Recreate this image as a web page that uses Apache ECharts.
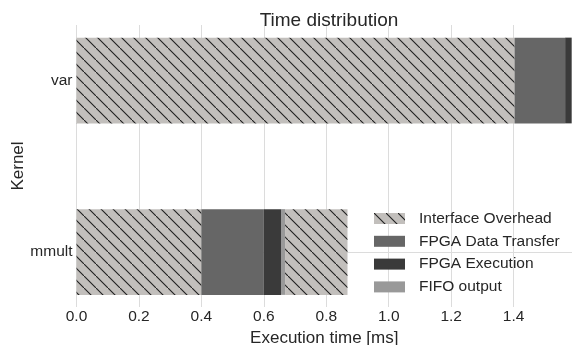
<!DOCTYPE html>
<html>
<head>
<meta charset="utf-8">
<script src="https://cdn.jsdelivr.net/npm/echarts@6/dist/echarts.min.js"></script>
<style>
  html, body { margin: 0; padding: 0; background: #fff; }
  #chart { width: 572px; height: 345px; }
</style>
</head>
<body>
<div id="chart"></div>
<script>
// kernels, bottom to top
var kernels = ['mmult', 'var'];
var seriesNames = ['Interface Overhead', 'FPGA Data Transfer', 'FPGA Execution', 'FIFO output'];
var interfaceOverhead = [0.4, 1.403];
var dataTransfer = [0.2, 0.162];
var fpgaExecution = [0.055, 0.021];
var fifoOutput = [0.013, 0];
var interfaceTail = [0.2, 0]; // second overhead piece after FIFO output
var xTicks = [0, 0.2, 0.4, 0.6, 0.8, 1.0, 1.2, 1.4];
var xMax = 1.587;

var FONT = 'Liberation Sans, Arial, sans-serif';
var TXT = '#262626';
var GRID = '#dcdcdc';

// hatch pattern for the overhead bars
function makeHatch() {
	var s = 12;
	var c = document.createElement('canvas');
	c.width = s;
	c.height = s;
	var ctx = c.getContext('2d');
	ctx.fillStyle = '#c2bfbc';
	ctx.fillRect(0, 0, s, s);
	ctx.strokeStyle = '#1e1e1e';
	ctx.lineWidth = 1.1;
	ctx.beginPath();
	ctx.moveTo(-1, -1);
	ctx.lineTo(s + 1, s + 1);
	ctx.stroke();
	return c;
}
var hatch = { image: makeHatch(), repeat: 'repeat' };

var chartDom = document.getElementById('chart');
var myChart = echarts.init(chartDom, null, { renderer: 'canvas', devicePixelRatio: 1 });

function bar(name, data, color, extra) {
	var s = {
		name: name,
		type: 'bar',
		stack: 'total',
		xAxisIndex: 1,
		yAxisIndex: 1,
		barWidth: '50%',
		data: data,
		itemStyle: { color: color },
		animation: false
	};
	return Object.assign(s, extra || {});
}

var option = {
	animation: false,
	textStyle: { fontFamily: FONT },
	title: {
		text: 'Time distribution',
		left: 324,
		textAlign: 'center',
		top: 6,
		textStyle: { fontFamily: FONT, fontSize: 19, fontWeight: 'normal', color: TXT }
	},
	legend: {
		data: seriesNames,
		orient: 'vertical',
		left: 374,
		top: 210.5,
		padding: 0,
		icon: 'rect',
		itemWidth: 31,
		itemHeight: 11,
		itemGap: 6.8,
		textStyle: { fontFamily: FONT, fontSize: 15.5, lineHeight: 16, color: TXT, padding: [0, 0, 0, 9] }
	},
	grid: [
		{ left: 76.5, right: 0, top: 25, bottom: 38, outerBoundsMode: 'none' },
		{ left: 76.5, right: 0, top: -5.25, height: 343, outerBoundsMode: 'none' }
	],
	xAxis: [
		{
			type: 'value',
			gridIndex: 0,
			min: 0,
			max: xMax,
			interval: 0.2,
			name: 'Execution time [ms]',
			nameLocation: 'middle',
			nameGap: 21,
			nameTextStyle: { fontFamily: FONT, fontSize: 17, color: TXT },
			axisLine: { show: false },
			axisTick: { show: false },
			axisLabel: {
				fontFamily: FONT, fontSize: 15.5, color: TXT, margin: 2,
				showMaxLabel: false,
				formatter: function (v) { return xTicks.indexOf(Math.round(v * 10) / 10) >= 0 ? v.toFixed(1) : ''; }
			},
			splitLine: { show: true, lineStyle: { color: GRID, width: 1 } }
		},
		{
			type: 'value',
			gridIndex: 1,
			min: 0,
			max: xMax,
			show: false
		}
	],
	yAxis: [
		{
			type: 'value',
			gridIndex: 0,
			min: 0,
			max: 1,
			name: 'Kernel',
			nameLocation: 'middle',
			nameRotate: 90,
			nameGap: 50,
			nameTextStyle: { fontFamily: FONT, fontSize: 17, color: TXT },
			axisLine: { show: false },
			axisTick: { show: false },
			axisLabel: { show: false },
			splitLine: { show: false }
		},
		{
			type: 'category',
			gridIndex: 1,
			data: kernels,
			axisLine: { show: false },
			axisTick: { show: false },
			axisLabel: { fontFamily: FONT, fontSize: 15.5, color: TXT, margin: 4 },
			splitLine: { show: false }
		}
	],
	series: [
		bar('Interface Overhead', interfaceOverhead, hatch, {
			markLine: {
				z: 1,
				silent: true,
				symbol: 'none',
				label: { show: false },
				lineStyle: { color: GRID, width: 1, type: 'solid' },
				data: [{ yAxis: 'mmult' }]
			}
		}),
		bar('FPGA Data Transfer', dataTransfer, '#666666'),
		bar('FPGA Execution', fpgaExecution, '#3a3a3a'),
		bar('FIFO output', fifoOutput, '#999999'),
		bar('Interface Overhead', interfaceTail, hatch)
	]
};

option && myChart.setOption(option);
</script>
</body>
</html>
